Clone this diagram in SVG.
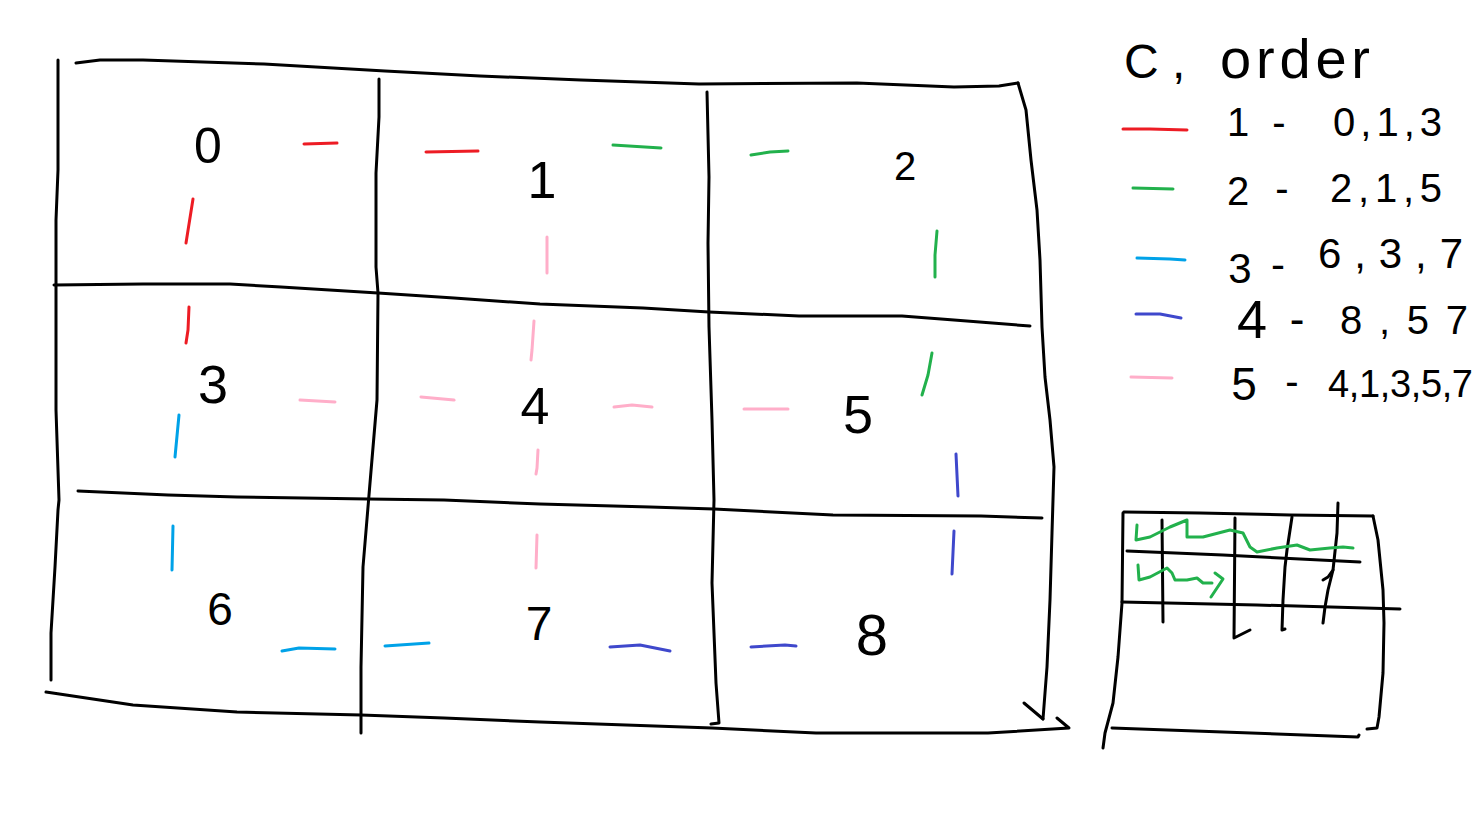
<svg xmlns="http://www.w3.org/2000/svg" width="1480" height="833" viewBox="0 0 1480 833">
<style>
.k{fill:none;stroke:#000;stroke-width:3;stroke-linecap:round;stroke-linejoin:round}
.d{fill:none;stroke-width:3;stroke-linecap:round;stroke-linejoin:round}
.r{stroke:#ed1c24}.g{stroke:#22b14c}.c{stroke:#00a2e8}.b{stroke:#3f48cc}.p{stroke:#ffaec9}
text{font-family:"Liberation Sans",Arial,sans-serif;fill:#000}
.n{text-anchor:middle}
</style>
<rect width="1480" height="833" fill="#fff"/>
<g id="grid">
<polyline class="k" points="76,63 100,60 143,60 264,64 385,71 480,76 581,80 699,84 857,83 954,87 999,86 1018,83"/>
<polyline class="k" points="1018,83 1026,110 1031,160 1037,210 1040,260 1042,327 1045,377 1050,420 1054,467 1052,533 1050,600 1047,667 1043,719"/>
<polyline class="k" points="1024,703 1043,719"/>
<polyline class="k" points="46,692 133,705 237,712 361,715 444,718 540,722 712,728 816,733 988,733 1069,728 1057,718"/>
<polyline class="k" points="58,60 58,170 56,220 56,410 59,500 58,510 55,567 51,633 51,680"/>
<polyline class="k" points="379,79 379,117 376,173 376,267 378,293 377,400 370,483 363,567 361,667 361,733"/>
<polyline class="k" points="707,92 709,177 708,243 709,327 712,420 714,500 712,583 716,683 719,723 711,724"/>
<polyline class="k" points="54,285 143,284 230,284 281,287 378,293 454,298 540,304 643,308 709,312 799,316 902,316 954,320 1030,326"/>
<polyline class="k" points="78,491 168,495 237,497 368,499 444,500 540,504 650,507 714,509 833,515 981,516 1042,518"/>
</g>
<g id="node-0"><text class="n" x="208" y="163" font-size="50">0</text></g>
<g id="node-1"><text class="n" x="542" y="198" font-size="52">1</text></g>
<g id="node-2"><text class="n" x="905" y="180" font-size="40">2</text></g>
<g id="node-3"><text class="n" x="213" y="403" font-size="54">3</text></g>
<g id="node-4"><text class="n" x="535" y="424" font-size="52">4</text></g>
<g id="node-5"><text class="n" x="858" y="433" font-size="54">5</text></g>
<g id="node-6"><text class="n" x="220" y="625" font-size="46">6</text></g>
<g id="node-7"><text class="n" x="539" y="640" font-size="48">7</text></g>
<g id="node-8"><text class="n" x="872" y="655" font-size="58">8</text></g>
<g id="connectors">
<polyline class="d r" points="304,144 337,143"/>
<polyline class="d r" points="426,152 478,151"/>
<polyline class="d r" points="193,199 186,243"/>
<polyline class="d r" points="189,307 188,330 186,343"/>
<polyline class="d g" points="613,145 661,148"/>
<polyline class="d g" points="751,155 770,152 788,151"/>
<polyline class="d g" points="937,231 935,255 935,277"/>
<polyline class="d g" points="932,353 928,375 922,395"/>
<polyline class="d p" points="547,237 547,273"/>
<polyline class="d p" points="534,321 532,350 531,360"/>
<polyline class="d p" points="300,400 335,402"/>
<polyline class="d p" points="421,397 454,400"/>
<polyline class="d p" points="614,407 632,405 652,407"/>
<polyline class="d p" points="744,409 788,409"/>
<polyline class="d p" points="538,450 537,468 536,474"/>
<polyline class="d p" points="537,535 536,568"/>
<polyline class="d c" points="179,415 175,457"/>
<polyline class="d c" points="173,526 172,570"/>
<polyline class="d c" points="282,651 299,648 335,649"/>
<polyline class="d c" points="385,646 429,643"/>
<polyline class="d b" points="956,454 958,496"/>
<polyline class="d b" points="954,531 952,574"/>
<polyline class="d b" points="610,647 640,645 670,651"/>
<polyline class="d b" points="751,647 785,645 796,646"/>
</g>
<g id="legend">
<text x="1124" y="78" font-size="48">C<tspan x="1172">,</tspan><tspan x="1220" textLength="150" font-size="56">order</tspan></text>
<polyline class="d r" points="1123,129 1150,129 1187,130"/>
<text y="136" font-size="40"><tspan class="n" x="1238">1</tspan><tspan class="n" x="1279">-</tspan><tspan x="1333" textLength="109">0,1,3</tspan></text>
<polyline class="d g" points="1133,188 1173,189"/>
<text y="205" font-size="40"><tspan class="n" x="1238">2</tspan><tspan class="n" x="1282" y="202">-</tspan><tspan x="1330" y="202" textLength="112">2,1,5</tspan></text>
<polyline class="d c" points="1137,258 1170,259 1185,260"/>
<text y="283" font-size="42"><tspan class="n" x="1240">3</tspan><tspan class="n" x="1278" y="279">-</tspan><tspan x="1318" y="268" textLength="145">6,3,7</tspan></text>
<polyline class="d b" points="1136,314 1160,314 1181,318"/>
<text y="338"><tspan class="n" x="1252" font-size="54">4</tspan><tspan class="n" x="1297" y="334" font-size="44">-</tspan><tspan x="1340" y="334" font-size="40" textLength="128">8,57</tspan></text>
<polyline class="d p" points="1131,377 1172,378"/>
<text y="400"><tspan class="n" x="1244" font-size="46">5</tspan><tspan class="n" x="1292" y="395" font-size="40">-</tspan><tspan x="1328" y="397" font-size="38" textLength="145">4,1,3,5,7</tspan></text>
</g>
<g id="mini-sketch">
<polyline class="k" points="1124,512 1200,513 1290,515 1373,516"/>
<polyline class="k" points="1123,513 1122,603 1118,657 1113,703 1105,733 1103,748"/>
<polyline class="k" points="1373,516 1378,540 1383,590 1384,623 1383,673 1379,717 1377,728 1367,729"/>
<polyline class="k" points="1112,728 1223,732 1358,737 1359,735"/>
<polyline class="k" points="1127,551 1223,555 1360,562"/>
<polyline class="k" points="1122,602 1257,605 1400,609"/>
<polyline class="k" points="1162,520 1163,622"/>
<polyline class="k" points="1235,518 1234,638 1250,630"/>
<polyline class="k" points="1292,517 1287,550 1285,567 1283,600 1282,630 1285,629"/>
<polyline class="k" points="1338,503 1337,533 1333,570 1328,590 1325,607 1323,623"/>
<polyline class="k" points="1323,580 1328,577 1333,570"/>
<polyline class="d g" points="1137,525 1136,540 1150,537 1170,527 1187,520 1187,537 1203,537 1230,530 1243,533 1250,547 1257,552 1277,548 1297,545 1310,550 1330,548 1343,547 1353,548"/>
<polyline class="d g" points="1138,565 1139,580 1150,577 1167,568 1172,573 1175,580 1187,580 1197,578 1203,583 1212,583"/>
<polyline class="d g" points="1215,573 1223,579 1211,597"/>
</g>
</svg>
